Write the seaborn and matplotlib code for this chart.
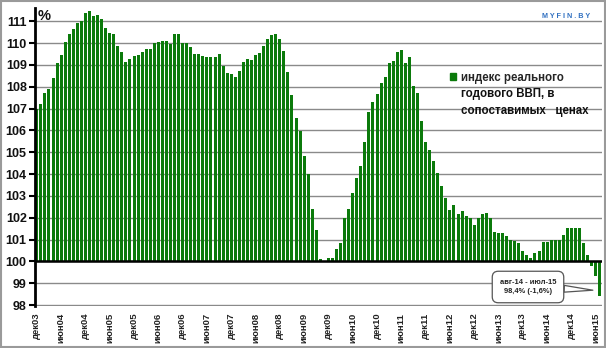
import matplotlib
matplotlib.use("Agg")
import matplotlib.pyplot as plt
import seaborn as sns
import pandas as pd
from matplotlib.patches import Rectangle, Patch

# ---- data -------------------------------------------------------------
month_names = ["янв", "фев", "мар", "апр", "май", "июн",
               "июл", "авг", "сен", "окт", "ноя", "дек"]
start_year, start_month, n_months = 2003, 12, 140
periods = []
y, m = start_year, start_month
for _ in range(n_months):
    periods.append(f"{month_names[m - 1]}{y % 100:02d}")
    m += 1
    if m > 12:
        m, y = 1, y + 1

gdp_index = [
    107.0, 107.2, 107.7, 107.9, 108.4, 109.1, 109.45, 110.05, 110.4, 110.65, 110.9, 111.0,
    111.4, 111.45, 111.25, 111.3, 111.1, 110.7, 110.45, 110.4, 109.85, 109.6, 109.15, 109.25,
    109.4, 109.45, 109.6, 109.75, 109.75, 110.0, 110.05, 110.1, 110.12, 109.95, 110.4, 110.4,
    110.0, 110.0, 109.8, 109.5, 109.5, 109.42, 109.38, 109.38, 109.38, 109.5, 108.96, 108.64,
    108.58, 108.44, 108.72, 109.13, 109.26, 109.21, 109.44, 109.53, 109.89, 110.17, 110.36, 110.41,
    110.17, 109.62, 108.67, 107.62, 106.58, 105.98, 104.84, 104.02, 102.38, 101.46, 100.1, 100.0,
    100.17, 100.17, 100.58, 100.85, 102.0, 102.4, 103.14, 103.83, 104.38, 105.48, 106.85, 107.31,
    107.68, 108.18, 108.46, 109.1, 109.19, 109.6, 109.69, 109.1, 109.37, 108.05, 107.73, 106.44,
    105.48, 105.11, 104.61, 104.06, 103.47, 102.92, 102.37, 102.6, 102.15, 102.3, 102.06, 101.97,
    101.69, 101.97, 102.15, 102.2, 101.97, 101.33, 101.3, 101.28, 101.15, 101.0, 100.95, 100.85,
    100.49, 100.28, 100.17, 100.38, 100.46, 100.88, 100.88, 101.0, 101.0, 101.0, 101.23, 101.54,
    101.54, 101.54, 101.54, 100.82, 100.3, 99.77, 99.34, 98.4,
]
base_level = 100
xtick_labels = ["дек03", "июн04", "дек04", "июн05", "дек05", "июн06", "дек06", "июн07",
                "дек07", "июн08", "дек08", "июн09", "дек09", "июн10", "дек10", "июн11",
                "дек11", "июн12", "дек12", "июн13", "дек13", "июн14", "дек14", "июн15"]
ytick_values = list(range(98, 112))
legend_lines = ["индекс реального", "годового ВВП, в", "сопоставимых   ценах"]
callout_text = "авг-14 - июл-15\n98,4% (-1,6%)"

# ---- style ------------------------------------------------------------
sns.set_style("white")
plt.rcParams["font.family"] = ["Liberation Sans", "DejaVu Sans"]

GREEN = "#0b7a0b"
W, H = 606, 348
fig = plt.figure(figsize=(W / 100, H / 100), dpi=100)
ax = fig.add_axes([35 / W, 42.3 / H, 567 / W, 297.5 / H])

df = pd.DataFrame({"period": periods,
                   "delta": [v - base_level for v in gdp_index]})
sns.barplot(data=df, x="period", y="delta", color=GREEN, saturation=1,
            width=0.75, errorbar=None, bottom=base_level, ax=ax,
            linewidth=0, zorder=2)

ax.set_xlim(-0.45, n_months - 0.45)
ax.set_ylim(97.97, 111.6)
ax.set_yticks(ytick_values)
ax.set_yticklabels([str(v) for v in ytick_values], fontsize=9,
                   fontweight="bold", color="#111111")
ax.set_xticks(range(0, n_months, 6))
ax.set_xticklabels(xtick_labels, rotation=90, fontsize=6.8,
                   fontweight="bold", color="#222222")
ax.tick_params(axis="x", length=0, pad=5)
ax.tick_params(axis="y", direction="out", length=4, width=1.5,
               color="black", pad=2, left=True)
ax.set_xlabel("")
ax.set_ylabel("")

ax.yaxis.grid(True, color="#8a8a8a", linewidth=1)
ax.xaxis.grid(False)
ax.set_axisbelow(True)
ax.axhline(base_level, color="black", linewidth=1.8, zorder=3)

for s in ["top", "right", "bottom"]:
    ax.spines[s].set_visible(False)
ax.spines["left"].set_color("black")
ax.spines["left"].set_linewidth(2)
ax.spines["left"].set_zorder(4)

# percent sign
fig.text(38 / W, 1 - 16 / H, "%", fontsize=10.5, fontweight="bold",
         va="center", ha="left", color="#111111")

# legend: handle + first line, remaining lines as text
fig.legend(handles=[Patch(facecolor=GREEN, edgecolor=GREEN)],
           labels=[legend_lines[0]], loc="center left",
           bbox_to_anchor=(450 / W, 1 - 78 / H), frameon=False,
           handlelength=0.55, handleheight=0.55, handletextpad=0.4,
           borderpad=0, borderaxespad=0,
           prop={"size": 8.3, "weight": "bold"})
for i, line in enumerate(legend_lines[1:], start=1):
    fig.text(461 / W, 1 - (78 + 16.5 * i) / H, line, fontsize=8.3,
             fontweight="bold", color="#111111", ha="left", va="center")

# callout annotation
ax.annotate(callout_text, xy=(137.3, 98.68), xycoords="data",
            xytext=(528, H - 287), textcoords="figure pixels",
            ha="center", va="center", fontsize=5.4, fontweight="bold",
            color="#222222", linespacing=1.5,
            bbox=dict(boxstyle="round,pad=1.0,rounding_size=0.8",
                      fc="white", ec="#555555", lw=0.9),
            arrowprops=dict(arrowstyle="wedge,tail_width=0.9,shrink_factor=0.5",
                            fc="white", ec="#555555", lw=0.9,
                            shrinkA=0, shrinkB=0),
            zorder=6)

# watermark
fig.text(566 / W, 1 - 17 / H, "M Y F I N . B Y", fontsize=5.2,
         fontweight="bold", color="#2f6fc0", ha="center", va="center")

# outer frame
fig.patches.append(Rectangle((0.001, 0.002), 0.997, 0.995,
                             transform=fig.transFigure, fill=False,
                             ec="#9a9a9a", lw=1.5))

fig.savefig("out.png", dpi=100)
